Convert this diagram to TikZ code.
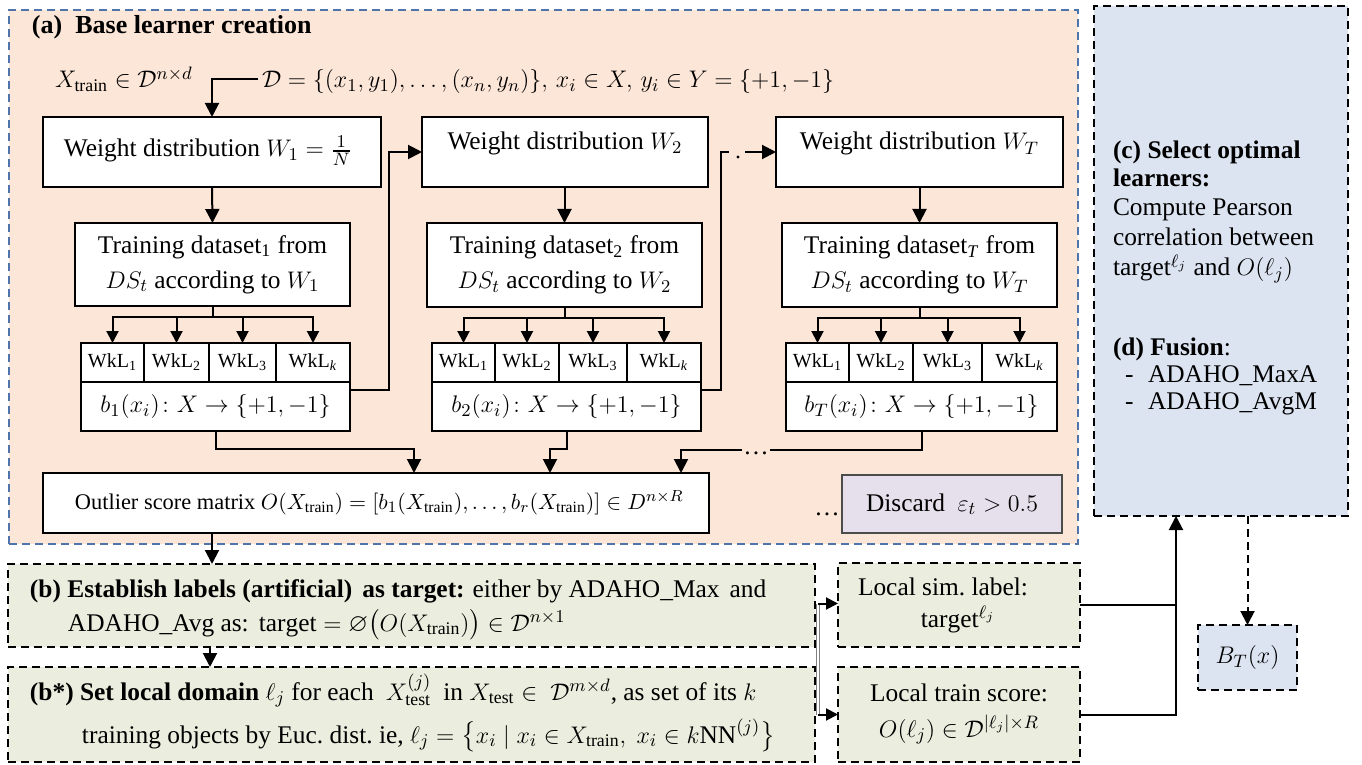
\documentclass[tikz,border=0pt]{standalone}
\usepackage{fontspec}
\setmainfont{Liberation Serif}
\usepackage{amsmath,amssymb}
\usetikzlibrary{arrows.meta,calc}
\definecolor{peach}{HTML}{FCE6D8}
\definecolor{bluebd}{HTML}{4F74AC}
\definecolor{lblue}{HTML}{DCE4F1}
\definecolor{lgreen}{HTML}{EBEEDE}
\definecolor{lilac}{HTML}{E6E0EC}
\newcommand\mainfs{\fontsize{12.7}{17.5}\selectfont}
\newcommand\outfs{\fontsize{11.2}{14}\selectfont}
\newcommand\cellfs{\fontsize{10}{12}\selectfont}
\newcommand\ttlfs{\fontsize{13}{16}\selectfont\bfseries}
\newcommand\mkbox[7]{\node[#6, minimum width={(#4-#2)*0.5pt}, minimum height={(#5-#3)*0.5pt}] (#1) at ({(#2+#4)/2},{(#3+#5)/2}) {#7};}
\tikzset{
 base box/.style={inner sep=0pt, outer sep=0pt, align=center, font=\mainfs},
 box/.style={base box, draw=black, line width=0.8pt, fill=white},
 cell/.style={base box, draw=black, line width=0.8pt, fill=white, font=\cellfs},
 panelA/.style={base box, draw=bluebd, line width=0.8pt, dash pattern=on 4pt off 2.5pt, fill=peach},
 panelR/.style={base box, draw=black, line width=0.8pt, dash pattern=on 4pt off 2.5pt, fill=lblue},
 gbox/.style={base box, draw=black, line width=0.8pt, dash pattern=on 4pt off 2.5pt, fill=lgreen},
 bbox/.style={base box, draw=black, line width=0.8pt, dash pattern=on 4pt off 2.5pt, fill=lblue},
 dbox/.style={base box, draw=black!70, line width=0.8pt, fill=lilac},
 txt/.style={inner sep=0pt, outer sep=0pt, font=\mainfs},
 ttl/.style={inner sep=0pt, outer sep=0pt, font=\ttlfs},
 arr/.style={line width=1pt, -{Triangle[length=7pt,width=7pt]}},
 sarr/.style={line width=1pt, -{Triangle[length=6pt,width=6pt]}},
 ln/.style={line width=1pt},
 dbl/.style={draw=gray, double=white, line width=0.5pt, double distance=1pt},
}
\begin{document}
\begin{tikzpicture}[x=0.5pt,y=-0.5pt]
\useasboundingbox (0,0) rectangle (1362,765);
% panels
\mkbox{A}{9}{10}{1078}{544}{panelA}{}
\mkbox{R}{1094}{6}{1348}{516}{panelR}{}
\mkbox{B}{8}{564}{815}{647}{gbox}{}
\mkbox{Bs}{8}{667}{815}{762}{gbox}{}
\mkbox{LS}{838}{563}{1080}{647}{gbox}{}
\mkbox{LT}{838}{667}{1080}{762}{gbox}{}
\mkbox{BT}{1198}{625}{1297}{690}{bbox}{$B_T(x)$}

% (a) header
\node[ttl, anchor=base west] (ttl) at (32,34) {(a)\ \ Base learner creation};
\node[txt, anchor=base west] (xtr) at (55,88) {$X_{\mathrm{train}}\in\mathcal{D}^{n\times d}$};
\node[txt, anchor=base west] (dset) at (262,88) {$\mathcal{D}=\{(x_1,y_1),\ldots,(x_n,y_n)\},\,x_i\in X,\,y_i\in Y=\{+1,-1\}$};

% weight boxes
\mkbox{W1}{43}{117}{381}{187}{box}{}
\mkbox{W2}{422}{117}{708}{187}{box}{}
\mkbox{WT}{776}{117}{1063}{187}{box}{}
\node[txt, anchor=base] (w1t) at (208,157) {Weight distribution $W_1=\frac{1}{N}$};
\node[txt, anchor=base] (w2t) at (565,150) {Weight distribution $W_2$};
\node[txt, anchor=base] (wTt) at (919.5,150) {Weight distribution $W_T$};

% training boxes
\mkbox{T1}{75}{223}{350}{306}{box}{Training dataset\textsubscript{1} from\\ $DS_t$ according to $W_1$}
\mkbox{T2}{427}{223}{702}{307}{box}{Training dataset\textsubscript{2} from\\ $DS_t$ according to $W_2$}
\mkbox{TT}{782}{223}{1057}{307}{box}{Training dataset\textsubscript{\textit{T}} from\\ $DS_t$ according to $W_T$}

% weak learner cells
\mkbox{c11}{81}{343}{144}{382}{cell}{WkL\textsubscript{1}}
\mkbox{c12}{144}{343}{209}{382}{cell}{WkL\textsubscript{2}}
\mkbox{c13}{209}{343}{276}{382}{cell}{WkL\textsubscript{3}}
\mkbox{c14}{276}{343}{350}{382}{cell}{WkL\textsubscript{\textit{k}}}
\mkbox{c21}{432}{343}{495}{382}{cell}{WkL\textsubscript{1}}
\mkbox{c22}{495}{343}{559}{382}{cell}{WkL\textsubscript{2}}
\mkbox{c23}{559}{343}{627}{382}{cell}{WkL\textsubscript{3}}
\mkbox{c24}{627}{343}{701}{382}{cell}{WkL\textsubscript{\textit{k}}}
\mkbox{c31}{786}{343}{849}{382}{cell}{WkL\textsubscript{1}}
\mkbox{c32}{849}{343}{913}{382}{cell}{WkL\textsubscript{2}}
\mkbox{c33}{913}{343}{982}{382}{cell}{WkL\textsubscript{3}}
\mkbox{c34}{982}{343}{1057}{382}{cell}{WkL\textsubscript{\textit{k}}}

% hypothesis boxes
\mkbox{b1}{81}{382}{350}{431}{box}{$b_1(x_i)\colon X\to\{+1,-1\}$}
\mkbox{b2}{432}{382}{701}{431}{box}{$b_2(x_i)\colon X\to\{+1,-1\}$}
\mkbox{bT}{786}{382}{1057}{431}{box}{$b_T(x_i)\colon X\to\{+1,-1\}$}

% outlier matrix and discard
\mkbox{Out}{43}{473}{709}{533}{box}{}
\node[txt, font=\outfs, anchor=base west] (outt) at (75,509) {Outlier score matrix $O(X_{\mathrm{train}})=[b_1(X_{\mathrm{train}}),\ldots,b_r(X_{\mathrm{train}})]\in D^{n\times R}$};
\mkbox{Dis}{842}{475}{1062}{533}{dbox}{Discard\ \ $\varepsilon_t>0.5$}
\node[txt, anchor=base] (dots1) at (827,515) {\ldots};

% (b) texts
\node[txt, anchor=base west] (bl1a) at (30,597) {\textbf{(b) Establish labels (artificial)\hspace{5pt}as target:}};
\node[txt, anchor=base west] (bl1b) at ([xshift=4pt]bl1a.base east) {either by ADAHO\_Max\hspace{5pt}and};
\node[txt, anchor=base west] (bl2) at (68,631) {ADAHO\_Avg as:\hspace{5pt}$\mathrm{target}=\varnothing\bigl(O(X_{\mathrm{train}})\bigr)\in\mathcal{D}^{n\times 1}$};
\node[txt, anchor=base west] (bs1a) at (30,700) {\textbf{(b*) Set local domain} $\ell_j$ for each};
\node[txt, anchor=base west] (bs1b) at ([xshift=6pt]bs1a.base east) {$X^{(j)}_{\mathrm{test}}$};
\node[txt, anchor=base west] (bs1c) at ([xshift=6pt]bs1b.base east) {in $X_{\mathrm{test}}\in\ \mathcal{D}^{m\times d}$, as set of its $k$};
\node[txt, anchor=base west] (bs2) at (82,743) {training objects by Euc.\ dist.\ ie, $\ell_j=\bigl\{x_i\mid x_i\in X_{\mathrm{train}},\ x_i\in k\mathrm{NN}^{(j)}\bigr\}$};

% local boxes texts
\node[txt, anchor=base] (ls1) at (943,595) {Local sim.\ label:};
\node[txt, anchor=base] (ls2) at (958,627) {$\mathrm{target}^{\ell_j}$};
\node[txt, anchor=base] (lt1) at (959,701) {Local train score:};
\node[txt, anchor=base] (lt2) at (959,737) {$O(\ell_j)\in\mathcal{D}^{|\ell_j|\times R}$};

% right panel texts
\node[txt, anchor=base west] (c1) at (1113,159) {\textbf{(c) Select optimal}};
\node[txt, anchor=base west] (c2) at (1113,187) {\textbf{learners:}};
\node[txt, anchor=base west] (c3) at (1113,216) {Compute Pearson};
\node[txt, anchor=base west] (c4) at (1113,246) {correlation between};
\node[txt, anchor=base west] (c5) at (1113,276) {$\mathrm{target}^{\ell_j}$ and $O(\ell_j)$};
\node[txt, anchor=base west] (d1) at (1113,356) {\textbf{(d) Fusion}:};
\node[txt, anchor=base west] (d2) at (1125,382) {-};
\node[txt, anchor=base west] (d3) at (1148,382) {ADAHO\_MaxA};
\node[txt, anchor=base west] (d4) at (1125,409) {-};
\node[txt, anchor=base west] (d5) at (1148,409) {ADAHO\_AvgM};

% connectors: top
\coordinate (xs) at (258,79);
\draw[arr] (xs) -| (W1.north);
\draw[arr] (W1.south) -- (T1.north);
\draw[arr] (W2.south -| T2.north) -- (T2.north);
\draw[arr] (WT.south -| TT.north) -- (TT.north);

% training -> cells
\foreach \t/\c in {T1/c11,T1/c12,T1/c13,T1/c14,T2/c21,T2/c22,T2/c23,T2/c24,TT/c31,TT/c32,TT/c33,TT/c34}
  \draw[sarr] (\t.south) -- ++(0,11) -| (\c.north);

% feedback loops
\draw[arr] (b1.north east) ++(0,8) -- ++(39,0) |- (W2.west);
\coordinate (k1) at (729,152);
\coordinate (k2) at (745,152);
\draw[ln] (b2.north east) ++(0,8) -- ++(20,0) |- (k1);
\fill (738,157) circle (1.6);
\draw[arr] (k2) -- (WT.west);

% hypotheses -> outlier matrix
\path (Out.north west) ++(371,0) coordinate (o1) ++(136,0) coordinate (o2) ++(131,0) coordinate (o3);
\draw[arr] (b1.south) -- ++(0,18) -| (o1);
\draw[arr] (b2.south) -- ++(0,18) -| (o2);
\coordinate (e1) at (770,450);
\coordinate (e2) at (742,450);
\draw[ln] (bT.south) |- (e1);
\node[txt, anchor=base] (dots2) at (756,454) {\ldots};
\draw[arr] (e2) -| (o3);

% outlier -> (b) -> (b*)
\path (Out.south west) ++(169,0) coordinate (os);
\draw[arr] (os) -- (os |- B.north);
\path (B.south west) ++(202,0) coordinate (bsd);
\draw[arr] (bsd) -- (bsd |- Bs.north);

% (b) -> local boxes
\coordinate (j1) at ($(B.east)+(3,-2)$);
\coordinate (j2) at (j1 |- LT.west);
\draw[dbl] (j1) -- (j2);
\draw[sarr] (j1) -- (j1 -| LS.west);
\draw[sarr] (j2) -- (LT.west);

% local boxes -> right panel
\path (R.south west) ++(82,0) coordinate (r1);
\draw[arr] (LT.east) -| (r1);
\draw[ln] (LS.east) -- (LS.east -| r1);
\draw[arr, dash pattern=on 4pt off 2.5pt] (BT.north |- R.south) -- (BT.north);
\end{tikzpicture}
\end{document}
